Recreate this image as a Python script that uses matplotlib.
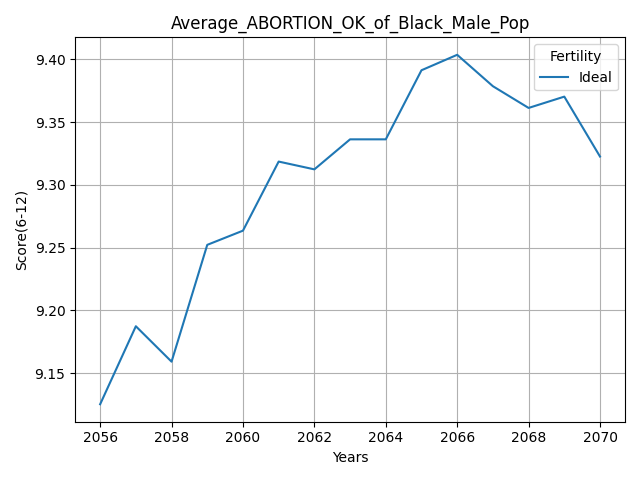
import matplotlib
matplotlib.use("Agg")
import matplotlib.pyplot as plt

years = list(range(2056, 2071))
ideal = [9.1253, 9.1874, 9.1592, 9.2522, 9.2635, 9.3185, 9.3123, 9.3362, 9.3362,
         9.3912, 9.4035, 9.3785, 9.3612, 9.3702, 9.3225]

fig, ax = plt.subplots(figsize=(6.4, 4.8), dpi=100)
ax.plot(years, ideal, label="Ideal")
ax.set_title("Average_ABORTION_OK_of_Black_Male_Pop")
ax.set_xlabel("Years")
ax.set_ylabel("Score(6-12)")
ax.set_xticks(range(2056, 2071, 2))
ax.grid(True)
ax.legend(title="Fertility", loc="upper right")
fig.tight_layout()
fig.savefig("out.png")
